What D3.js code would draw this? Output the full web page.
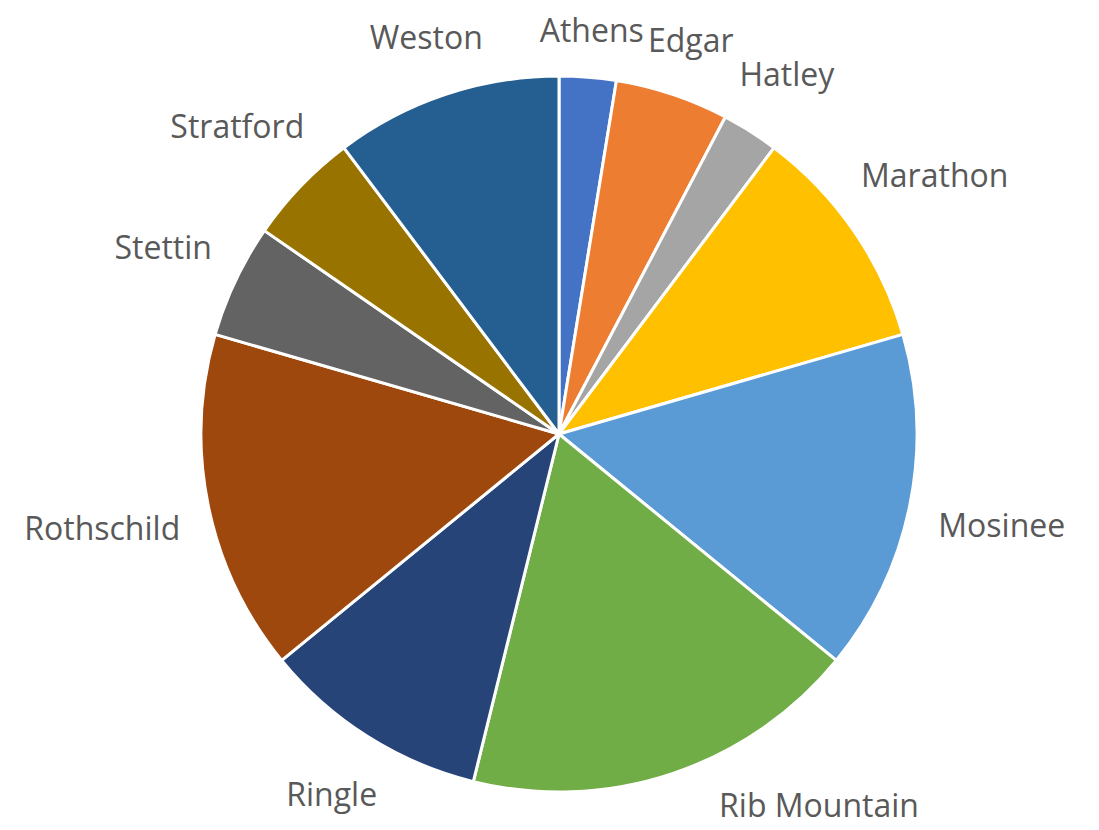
<!DOCTYPE html>
<html>
<head>
<meta charset="utf-8">
<script src="https://cdn.jsdelivr.net/npm/d3@7"></script>
<style>
  body { margin: 0; background: #fff; }
  text { font-family: "Open Sans", sans-serif; fill: #595959; }
</style>
</head>
<body>
<svg id="chart"></svg>
<script>
const towns = ['Athens', 'Edgar', 'Hatley', 'Marathon', 'Mosinee', 'Rib Mountain',
  'Ringle', 'Rothschild', 'Stettin', 'Stratford', 'Weston'];
const counts = [1, 2, 1, 4, 6, 7, 4, 6, 2, 2, 4];
const colors = ['#4472C4', '#ED7D31', '#A5A5A5', '#FFC000', '#5B9BD5', '#70AD47',
  '#264478', '#9E480E', '#636363', '#997300', '#255E91'];

const width = 1099;
const height = 830;
const cx = 559, cy = 434;
const radius = 358;
const labelGap = 28;
const edge = 6;

const data = towns.map((t, i) => ({ town: t, value: counts[i] }));

const svg = d3.select('#chart')
  .attr('width', width)
  .attr('height', height);

const g = svg.append('g')
  .attr('transform', `translate(${cx}, ${cy})`);

const pie = d3.pie()
  .sort(null)
  .value(d => d.value);

const arc = d3.arc()
  .innerRadius(0)
  .outerRadius(radius);

const arcs = pie(data);

g.selectAll('path')
  .data(arcs)
  .enter()
  .append('path')
  .attr('d', arc)
  .attr('fill', (d, i) => colors[i])
  .attr('stroke', '#fff')
  .attr('stroke-width', 3)
  .attr('stroke-linejoin', 'round');

// ラベル: 中心角の方向に押し出して、円から一定距離に置く
const labels = g.selectAll('text')
  .data(arcs)
  .enter()
  .append('text')
  .attr('font-size', 32)
  .attr('text-anchor', 'middle')
  .attr('dominant-baseline', 'central')
  .text(d => d.data.town);

labels.each(function (d) {
  const w = this.getComputedTextLength();
  const h = 38;
  const place = a => {
    const ux = Math.sin(a), uy = -Math.cos(a);
    const nearest = t => {
      const nx = Math.max(Math.abs(t * ux) - w / 2, 0);
      const ny = Math.max(Math.abs(t * uy) - h / 2, 0);
      return Math.hypot(nx, ny);
    };
    let lo = 0, hi = 1000;
    for (let k = 0; k < 50; k++) {
      const mid = (lo + hi) / 2;
      if (nearest(mid) < radius + labelGap) lo = mid; else hi = mid;
    }
    return [hi * ux, hi * uy];
  };
  const fits = ([x, y]) =>
    cx + x - w / 2 >= edge && cx + x + w / 2 <= width - edge &&
    cy + y - h / 2 >= 0 && cy + y + h / 2 <= height - edge;

  // 画面からはみ出すときは水平方向へ角度をずらす
  let a = (d.startAngle + d.endAngle) / 2;
  const side = Math.sin(a) >= 0 ? Math.PI / 2 : 3 * Math.PI / 2;
  let p = place(a);
  for (let k = 0; k < 200 && !fits(p); k++) {
    a += (side - a) > 0 ? 0.005 : -0.005;
    p = place(a);
  }
  d3.select(this)
    .attr('x', p[0])
    .attr('y', p[1]);
});
</script>
</body>
</html>
